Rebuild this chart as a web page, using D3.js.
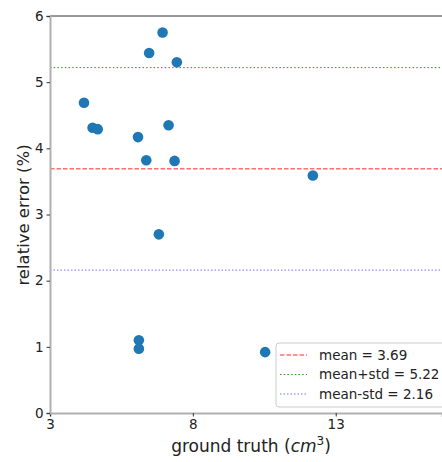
<!DOCTYPE html>
<html>
<head>
<meta charset="utf-8">
<script src="https://cdn.jsdelivr.net/npm/d3@7"></script>
<style>
  body { margin: 0; background: #fff; }
  text { font-family: "DejaVu Sans", sans-serif; }
</style>
</head>
<body>
<div id="chart"></div>
<script>
// ground truth (cm^3) vs relative error (%)
var truth = [6.94, 6.47, 7.44, 4.19, 4.49, 4.67, 6.08, 7.15, 6.37, 7.36, 12.2, 6.81, 6.11, 6.11, 10.53];
var relErr = [5.75, 5.44, 5.30, 4.69, 4.31, 4.29, 4.17, 4.35, 3.82, 3.81, 3.59, 2.70, 1.10, 0.97, 0.92];

var refNames = ["mean = 3.69", "mean+std = 5.22", "mean-std = 2.16"];
var refValues = [3.69, 5.22, 2.16];
var refColors = ["#ff0000", "#1f9e1f", "#0000ff"];
var refDash = ["4.5,2", "1.5,2.2", "1.5,2"];
var refOpacity = [0.85, 1, 0.55];

var xTicks = [3, 8, 13];
var yTicks = [0, 1, 2, 3, 4, 5, 6];

var width = 442, height = 462;
var mLeft = 50, mTop = 16, mBottom = 413;

var x = d3.scaleLinear().domain([3, 16.72]).range([mLeft, width]);
var y = d3.scaleLinear().domain([0, 6]).range([mBottom, mTop]);

var svg = d3.select("#chart").append("svg")
    .attr("width", width)
    .attr("height", height);

// top spine
svg.append("line")
    .attr("x1", mLeft).attr("x2", width)
    .attr("y1", mTop).attr("y2", mTop)
    .attr("stroke", "#333").attr("stroke-width", 1);

// points
svg.append("g").selectAll("circle")
    .data(truth)
    .enter()
    .append("circle")
    .attr("cx", function (d) { return x(d); })
    .attr("cy", function (d, i) { return y(relErr[i]); })
    .attr("r", 5.3)
    .attr("fill", "#1f77b4");

// reference lines
svg.append("g").selectAll("line")
    .data(refValues)
    .enter()
    .append("line")
    .attr("x1", mLeft).attr("x2", width)
    .attr("y1", function (d) { return y(d); })
    .attr("y2", function (d) { return y(d); })
    .attr("stroke", function (d, i) { return refColors[i]; })
    .attr("stroke-dasharray", function (d, i) { return refDash[i]; })
    .attr("stroke-opacity", function (d, i) { return refOpacity[i]; })
    .attr("stroke-width", 1);

// axes
var xAxis = svg.append("g")
    .attr("transform", "translate(0," + mBottom + ")")
    .call(d3.axisBottom(x).tickValues(xTicks).tickFormat(d3.format("d")).tickSize(3.5).tickPadding(3));

var yAxis = svg.append("g")
    .attr("transform", "translate(" + mLeft + ",0)")
    .call(d3.axisLeft(y).tickValues(yTicks).tickFormat(d3.format("d")).tickSize(3.5).tickPadding(3));

[xAxis, yAxis].forEach(function (a) {
    a.select(".domain").attr("stroke", "#b0b0b0").attr("stroke-width", 2);
    a.selectAll(".tick line").attr("stroke", "#333");
    a.selectAll(".tick text")
        .attr("fill", "#222")
        .style("font-size", "13.5px")
        .style("font-family", "DejaVu Sans, sans-serif");
});

// axis labels
var xl = svg.append("text")
    .attr("x", 251)
    .attr("y", 452)
    .attr("text-anchor", "middle")
    .attr("fill", "#222")
    .style("font-size", "17px");
xl.append("tspan").text("ground truth (");
xl.append("tspan").style("font-style", "italic").text("cm");
xl.append("tspan").attr("dy", -7).style("font-size", "12px").text("3");
xl.append("tspan").attr("dy", 7).text(")");

svg.append("text")
    .attr("transform", "translate(29,215) rotate(-90)")
    .attr("text-anchor", "middle")
    .attr("fill", "#222")
    .style("font-size", "16.5px")
    .text("relative error (%)");

// legend
var legend = svg.append("g").attr("transform", "translate(276,343)");
legend.append("rect")
    .attr("x", 0).attr("y", 0)
    .attr("width", 180).attr("height", 64)
    .attr("rx", 3)
    .attr("fill", "#fff").attr("fill-opacity", 0.8)
    .attr("stroke", "#ccc");

var rows = legend.selectAll("g.row")
    .data(refNames)
    .enter()
    .append("g")
    .attr("class", "row")
    .attr("transform", function (d, i) { return "translate(0," + (12 + i * 19.5) + ")"; });

rows.append("line")
    .attr("x1", 4).attr("x2", 31)
    .attr("y1", 0).attr("y2", 0)
    .attr("stroke", function (d, i) { return refColors[i]; })
    .attr("stroke-dasharray", function (d, i) { return refDash[i]; })
    .attr("stroke-opacity", function (d, i) { return refOpacity[i]; });

rows.append("text")
    .attr("x", 43)
    .attr("y", 4.5)
    .attr("fill", "#222")
    .style("font-size", "13.5px")
    .text(function (d) { return d; });
</script>
</body>
</html>
